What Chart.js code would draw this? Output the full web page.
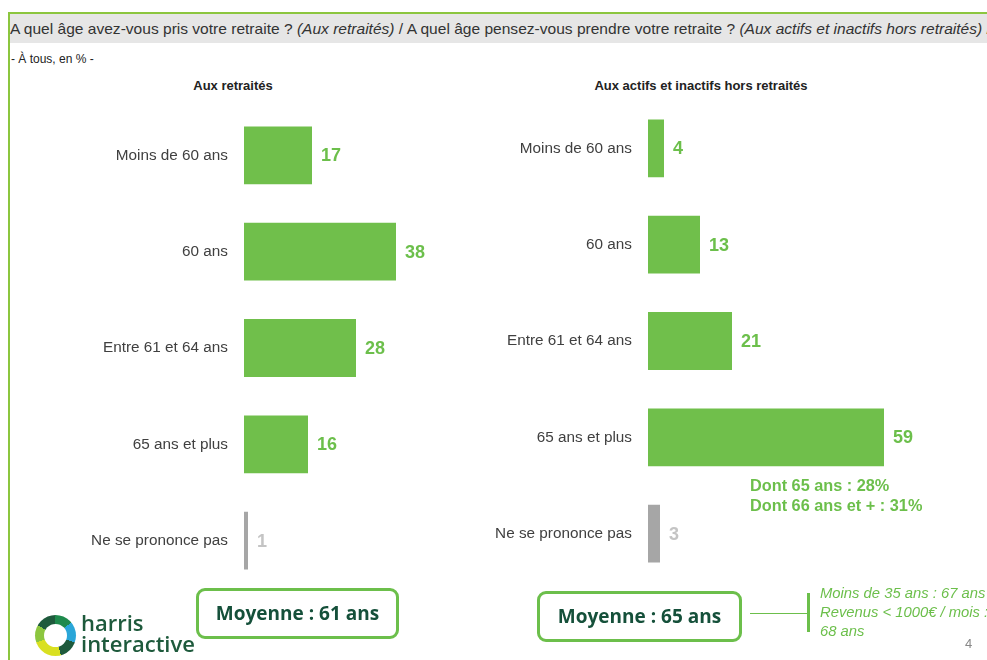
<!DOCTYPE html>
<html><head><meta charset="utf-8">
<script src="https://cdn.jsdelivr.net/npm/chart.js@4/dist/chart.umd.min.js"></script>
<style>
html,body{margin:0;padding:0;width:987px;height:660px;overflow:hidden;background:#fff;font-family:"Liberation Sans",Arial,sans-serif;}
.abs{position:absolute;white-space:nowrap;}
#hdr{left:9px;top:14px;width:990px;height:29px;background:#e6e6e6;font-size:15.55px;color:#333;line-height:29px;padding-left:1px;}
#topline{left:8px;top:12px;width:990px;height:2px;background:#8cc63f;}
#leftline{left:8px;top:12px;width:2px;height:660px;background:#8cc63f;}
.box{border:3px solid #6cbf4b;border-radius:9px;font-weight:bold;font-size:19px;color:#15503a;text-align:center;box-sizing:border-box;font-family:"Open Sans","Liberation Sans",sans-serif;}
.title{font-weight:bold;font-size:13px;color:#222;transform:translateX(-50%);}
.dont{color:#6cbf4b;font-weight:bold;font-size:16.3px;line-height:20px;}
.note{color:#6cbf4b;font-style:italic;font-size:14.8px;line-height:19px;}
canvas.abs{display:block;}
</style></head><body>
<div id="hdr" class="abs">A quel âge avez-vous pris votre retraite ? <i>(Aux retraités)</i> / A quel âge pensez-vous prendre votre retraite ? <i>(Aux actifs et inactifs hors retraités)</i> /</div>
<div id="topline" class="abs"></div>
<div id="leftline" class="abs"></div>
<div class="abs" style="left:11px;top:52px;font-size:12px;color:#222;">- À tous, en % -</div>
<div class="abs title" style="left:233px;top:78px;">Aux retraités</div>
<div class="abs title" style="left:701px;top:78px;">Aux actifs et inactifs hors retraités</div>

<canvas id="c1" class="abs" width="470" height="532" style="left:10px;top:82px;"></canvas>
<canvas id="c2" class="abs" width="540" height="532" style="left:440px;top:75px;"></canvas>

<div class="abs dont" style="left:750px;top:475px;">Dont 65 ans : 28%<br>Dont 66 ans et + : 31%</div>

<div class="abs box" style="left:196px;top:588px;width:203px;height:51px;line-height:45px;">Moyenne : 61 ans</div>
<div class="abs box" style="left:537px;top:591px;width:205px;height:51px;line-height:45px;">Moyenne : 65 ans</div>
<div class="abs" style="left:750px;top:613px;width:58px;height:1px;background:#6cbf4b;"></div>
<div class="abs" style="left:807px;top:593px;width:3px;height:39px;background:#6cbf4b;"></div>
<div class="abs note" style="left:820px;top:584px;">Moins de 35 ans : 67 ans<br>Revenus &lt; 1000€ / mois :<br>68 ans</div>
<div class="abs" style="left:965px;top:636px;font-size:13px;color:#888;">4</div>

<div class="abs" style="left:35px;top:615px;width:41px;height:41px;border-radius:50%;background:conic-gradient(#1e8a4c 0deg 50deg,#2aa6d8 50deg 110deg,#1e5a3c 110deg 165deg,#d9e021 165deg 250deg,#8cc63f 250deg 300deg,#1e5a3c 300deg 360deg);"></div>
<div class="abs" style="left:44px;top:624px;width:23px;height:23px;border-radius:50%;background:#fff;"></div>
<div class="abs" style="left:81px;top:612px;font-size:22px;line-height:21px;color:#1e5a3c;font-family:'Open Sans','Liberation Sans',sans-serif;font-weight:600;">harris<br>interactive</div>

<script>
const categories = ["Moins de 60 ans","60 ans","Entre 61 et 64 ans","65 ans et plus","Ne se prononce pas"];
const retraites = [17,38,28,16,1];
const actifs = [4,13,21,59,3];
const GREEN = "#70bf4b", GREY = "#a6a6a6";
const barColors = [GREEN,GREEN,GREEN,GREEN,GREY];
const labelColors = ["#6cbf4b","#6cbf4b","#6cbf4b","#6cbf4b","#c4c4c4"];

const valueLabels = {
  id:"valueLabels",
  afterDatasetsDraw(chart){
    const ctx = chart.ctx;
    const meta = chart.getDatasetMeta(0);
    ctx.save();
    ctx.font = "bold 18px 'Liberation Sans', Arial, sans-serif";
    ctx.textBaseline = "middle";
    ctx.textAlign = "left";
    meta.data.forEach((bar,i)=>{
      ctx.fillStyle = labelColors[i];
      ctx.fillText(String(chart.data.datasets[0].data[i]), bar.x + 9, bar.y + 1);
    });
    ctx.restore();
  }
};

function makeChart(id, values, yWidth, xmax){
  return new Chart(document.getElementById(id), {
    type:"bar",
    data:{labels:categories, datasets:[{data:values, backgroundColor:barColors, borderWidth:0, barPercentage:0.6, categoryPercentage:1.0}]},
    options:{
      indexAxis:"y", responsive:false, animation:false,
      layout:{padding:0},
      plugins:{legend:{display:false}, tooltip:{enabled:false}},
      scales:{
        x:{display:false, min:0, max:xmax},
        y:{
          grid:{display:false, drawTicks:false}, border:{display:false},
          ticks:{color:"#404040", font:{family:"'Liberation Sans', Arial, sans-serif", size:15.3}, padding:16},
          afterFit(scale){ scale.width = yWidth; }
        }
      }
    },
    plugins:[valueLabels]
  });
}
makeChart("c1", retraites, 234, 59);
makeChart("c2", actifs, 208, 83);
</script>
</body></html>
